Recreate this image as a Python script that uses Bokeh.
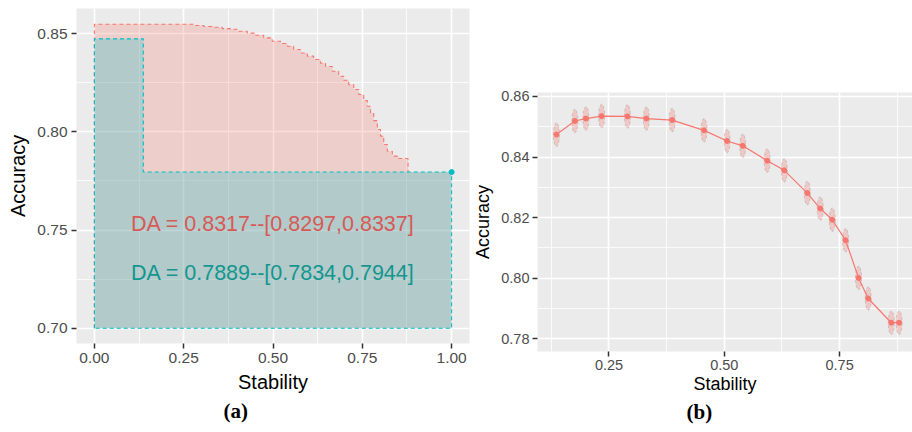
from bokeh.plotting import figure
from bokeh.layouts import row, column
from bokeh.models import FixedTicker, NumeralTickFormatter, Title
from bokeh.core.properties import value
from bokeh.embed import file_html
from bokeh.resources import INLINE

# ---------------- data ----------------
# (a) stability/accuracy step curves
base_acc = 0.70
red_x = [0.0, 0.248, 0.278, 0.306, 0.334, 0.358, 0.381, 0.400, 0.428, 0.451, 0.474,
         0.498, 0.521, 0.540, 0.558, 0.577, 0.596, 0.614, 0.633, 0.647, 0.666,
         0.684, 0.698, 0.712, 0.726, 0.740, 0.754, 0.764, 0.773, 0.782, 0.792,
         0.801, 0.810, 0.820, 0.834, 0.852, 0.878]
red_y = [0.8547, 0.8547, 0.8541, 0.8536, 0.8532, 0.8525, 0.8522, 0.8512, 0.8502, 0.8491, 0.8478,
         0.8461, 0.8449, 0.8435, 0.8419, 0.8401, 0.8385, 0.8368, 0.8349, 0.8332, 0.8308,
         0.8283, 0.8262, 0.8240, 0.8215, 0.8190, 0.8159, 0.8130, 0.8096, 0.8057, 0.8012,
         0.7978, 0.7935, 0.7901, 0.7876, 0.7864, 0.7854]
teal_x = [0.0, 0.137, 1.0]
teal_y = [0.8473, 0.7795, 0.7795]
label_red = "DA = 0.8317--[0.8297,0.8337]"
label_teal = "DA = 0.7889--[0.7834,0.7944]"

# (b) mean accuracy vs stability
stab = [0.136, 0.176, 0.200, 0.234, 0.290, 0.331, 0.387, 0.456, 0.506, 0.540,
        0.593, 0.630, 0.680, 0.708, 0.734, 0.763, 0.791, 0.812, 0.862, 0.879]
acc = [0.8474, 0.8519, 0.8527, 0.8535, 0.8534, 0.8527, 0.8522, 0.8488, 0.8453, 0.8437,
       0.8388, 0.8356, 0.8281, 0.8230, 0.8193, 0.8125, 0.8001, 0.7933, 0.7853, 0.7853]

RED = "#F8766D"
TEAL = "#00BFC4"
SANS = "Liberation Sans"


def style(p, xt, xminor, yt, yminor, tick_size, title_size):
    p.background_fill_color = "#EBEBEB"
    p.border_fill_color = "white"
    p.outline_line_color = None
    p.xaxis.ticker = FixedTicker(ticks=xt, minor_ticks=xminor)
    p.yaxis.ticker = FixedTicker(ticks=yt, minor_ticks=yminor)
    p.xaxis.formatter = NumeralTickFormatter(format="0.00")
    p.yaxis.formatter = NumeralTickFormatter(format="0.00")
    p.grid.grid_line_color = "white"
    p.grid.grid_line_width = 1.6
    p.grid.minor_grid_line_color = "white"
    p.grid.minor_grid_line_width = 0.8
    for ax in (p.xaxis, p.yaxis):
        ax.axis_line_color = None
        ax.major_tick_line_color = "#333333"
        ax.major_tick_line_width = 1.5
        ax.major_tick_out = 5
        ax.major_tick_in = 0
        ax.minor_tick_out = 0
        ax.minor_tick_in = 0
        ax.major_label_text_color = "#4D4D4D"
        ax.major_label_text_font = SANS
        ax.major_label_text_font_size = tick_size
        ax.axis_label_text_font = SANS
        ax.axis_label_text_font_style = "normal"
        ax.axis_label_text_font_size = title_size
        ax.axis_label_text_color = "black"
        ax.axis_label_standoff = 5
    p.xaxis.major_label_standoff = 4
    p.yaxis.major_label_standoff = 4


def caption(p, text, offset):
    p.add_layout(Title(text=text, align="left", offset=offset, standoff=2,
                       text_font="Liberation Serif", text_font_style="bold",
                       text_font_size="21px", text_color="black"), "below")


def step_path(xs, ys):
    px = [xs[0]]
    py = [ys[0]]
    for i in range(1, len(xs)):
        px += [xs[i], xs[i]]
        py += [ys[i - 1], ys[i]]
    return px, py


# ---------------- panel (a) ----------------
p1 = figure(width=470, height=432, x_range=(-0.05, 1.05), y_range=(0.69225, 0.86275),
            output_backend="svg", toolbar_location=None,
            min_border_left=76, min_border_right=1, min_border_top=8, min_border_bottom=89,
            x_axis_label="Stability", y_axis_label="Accuracy")
style(p1, [0, 0.25, 0.5, 0.75, 1.0], [0.125, 0.375, 0.625, 0.875],
      [0.70, 0.75, 0.80, 0.85], [0.725, 0.775, 0.825], "15.5px", "20px")

# red step area
sx, sy = step_path(red_x, red_y)
p1.patch([red_x[0]] + sx + [red_x[-1]], [base_acc] + sy + [base_acc],
         fill_color=RED, fill_alpha=0.25, line_color=None)
p1.quad(left=[red_x[-1]], right=[teal_x[-1]], bottom=[base_acc], top=[teal_y[-1]],
        fill_color=RED, fill_alpha=0.25, line_color=None)
p1.line([red_x[0]] + sx + [red_x[-1]], [base_acc] + sy + [teal_y[-1]],
        line_color=RED, line_dash="4 3", line_width=1.1)

# teal step area
tx, ty = step_path(teal_x, teal_y)
p1.patch([teal_x[0]] + tx + [teal_x[-1]], [base_acc] + ty + [base_acc],
         fill_color=TEAL, fill_alpha=0.25, line_color=TEAL, line_dash="4 3",
         line_width=1.1)
p1.scatter([teal_x[-1]], [teal_y[-1]], size=5, color=TEAL)

p1.text(x=[0.5], y=[0.7530], text=[label_red], text_align="center", text_baseline="middle",
        text_color="#D65A57", text_font=value(SANS), text_font_size="21.5px")
p1.text(x=[0.5], y=[0.7280], text=[label_teal], text_align="center", text_baseline="middle",
        text_color="#12968F", text_font=value(SANS), text_font_size="21.5px")
caption(p1, "(a)", 147)

# ---------------- panel (b) ----------------
p2 = figure(width=442, height=432, x_range=(0.095, 0.908), y_range=(0.7758, 0.8613),
            output_backend="svg", toolbar_location=None,
            min_border_left=65, min_border_right=0, min_border_top=92, min_border_bottom=81,
            x_axis_label="Stability", y_axis_label="Accuracy")
style(p2, [0.25, 0.5, 0.75], [0.125, 0.375, 0.625, 0.875],
      [0.78, 0.80, 0.82, 0.84, 0.86], [0.79, 0.81, 0.83, 0.85], "14.5px", "18px")
p2.yaxis.major_label_standoff = 3
p2.xaxis.major_label_standoff = 3
p2.xaxis.axis_label_standoff = 1

p2.ellipse(x=stab, y=acc, width=0.013, height=0.0078, fill_color=RED, fill_alpha=0.3,
           line_color="#A8A8A8", line_alpha=0.6, line_dash="3 2", line_width=0.9)
p2.line(stab, acc, line_color=RED, line_width=1.2)
p2.scatter(stab, acc, size=5, color=RED)
caption(p2, "(b)", 149)

layout = row(column(p1), column(p2))
open("out.html", "w").write(file_html(layout, INLINE))
